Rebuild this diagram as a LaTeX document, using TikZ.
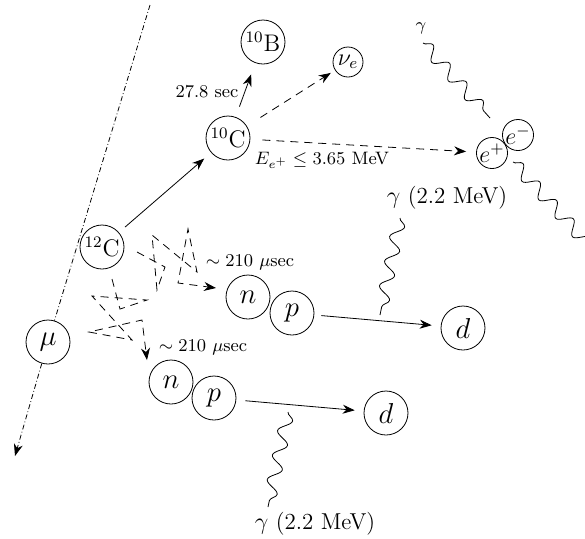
\documentclass[tikz,border=0pt]{standalone}
\usetikzlibrary{arrows.meta,decorations.pathmorphing}
\begin{document}
\begin{tikzpicture}[x=0.5pt,y=-0.5pt,
  nuc/.style={circle,draw,minimum size=22pt,inner sep=0pt,font=\large},
  part/.style={nuc,font=\Large},
  lep/.style={circle,draw,minimum size=15pt,inner sep=0pt,font=\large},
  arr/.style={-{Stealth[length=6pt,width=4.5pt]}},
  dsh/.style={dash pattern=on 4pt off 3pt},
  mul/.style={line width=0.4pt,dash pattern=on 2.5pt off 1.2pt on 0.4pt off 1.2pt},
  wave/.style={decorate,decoration={snake,segment length=12.5pt,amplitude=3.2pt}},
  lbl/.style={font=\small,inner sep=1pt},
  glbl/.style={font=\fontsize{11.5}{13}\selectfont,inner sep=1pt}]
\useasboundingbox (0,0) rectangle (585,538);
% nodes
\node[nuc] (B10) at (263,42) {$^{10}$B};
\node[lep] (nu) at (348,62) {$\nu_e$};
\node[nuc] (C10) at (228,138) {$^{10}$C};
\node[nuc] (C12) at (102,247) {$^{12}$C};
\node[part] (mu) at (48,342) {$\mu$};
\node[part] (n1) at (248,297) {$n$};
\node[part] (p1) at (292,313) {$p$};
\node[part] (d1) at (463,328) {$d$};
\node[part] (n2) at (171,382) {$n$};
\node[part] (p2) at (214,398) {$p$};
\node[part] (d2) at (386,413) {$d$};
\node[lep] (ep) at (492,153) {$e^+$};
\node[lep] (em) at (518,135) {$e^-$};
% labels
\node[lbl] (t1) at (207,92) {27.8 sec};
\node[lbl] (t2) at (322,160) {$E_{e^+}\leq 3.65$ MeV};
\node[lbl] (t3) at (250,262) {$\sim 210\ \mu$sec};
\node[lbl] (t4) at (203,347) {$\sim 210\ \mu$sec};
\node[lbl] (g1) at (421,28) {$\gamma$};
\node[glbl] (g2) at (447,198) {$\gamma$ (2.2 MeV)};
\node[glbl] (g3) at (315,524) {$\gamma$ (2.2 MeV)};
% muon track
\coordinate (mtop) at (150,5);
\coordinate (mbot) at (15,456);
\draw[mul] (mtop) -- (mu);
\draw[mul,arr] (mu) -- (mbot);
% reactions
\draw[arr,shorten <=4pt,shorten >=4.5pt] (C12) -- (C10);
\draw[arr,shorten <=5.5pt,shorten >=6pt] (C10) -- (B10);
\draw[arr,dsh,shorten <=8pt,shorten >=2.5pt] (C10) -- (nu);
\draw[arr,dsh,shorten <=6pt,shorten >=5pt] (C10) -- (ep);
\draw[arr,shorten <=3.5pt,shorten >=4.5pt] (p1) -- (d1);
\draw[arr,shorten <=4.5pt,shorten >=4.5pt] (p2) -- (d2);
% neutron random walks
\coordinate (a1) at (137,252); \coordinate (a2) at (165,267);
\coordinate (a3) at (157,290); \coordinate (a4) at (152,235);
\coordinate (a5) at (197,272); \coordinate (a6) at (188,229);
\coordinate (a7) at (178,283); \coordinate (a8) at (216,288);
\draw[arr,dsh] (a1) -- (a2) -- (a3) -- (a4) -- (a5) -- (a6) -- (a7) -- (a8);
\coordinate (b1) at (112,279); \coordinate (b2) at (120,309);
\coordinate (b3) at (147,300); \coordinate (b4) at (92,296);
\coordinate (b5) at (132,340); \coordinate (b6) at (89,332);
\coordinate (b7) at (142,320); \coordinate (b8) at (147,360);
\draw[arr,dsh] (b1) -- (b2) -- (b3) -- (b4) -- (b5) -- (b6) -- (b7) -- (b8);
% photons
\coordinate (w1a) at (423,43); \coordinate (w1b) at (490,118);
\coordinate (w2a) at (513,162); \coordinate (w2b) at (595,252);
\coordinate (w3a) at (400,218); \coordinate (w3b) at (380,315);
\coordinate (w4a) at (288,412); \coordinate (w4b) at (268,507);
\draw[wave] (w1a) -- (w1b);
\draw[wave] (w2a) -- (w2b);
\draw[wave] (w3a) -- (w3b);
\draw[wave] (w4a) -- (w4b);
\end{tikzpicture}
\end{document}
